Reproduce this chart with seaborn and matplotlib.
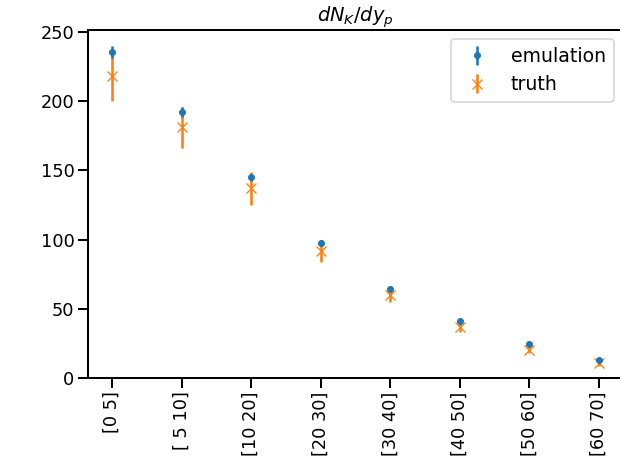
import numpy as np
import matplotlib
matplotlib.use("Agg")
import matplotlib.pyplot as plt
import seaborn as sns

categories = ["[0 5]", "[ 5 10]", "[10 20]", "[20 30]", "[30 40]", "[40 50]", "[50 60]", "[60 70]"]
emulation = [235.5, 192, 145, 97.5, 64, 41, 24.5, 13]
emulation_err = [4.5, 3.5, 2.5, 2, 1.5, 1, 1, 0.7]
truth = [218, 181, 137, 92, 60, 36.5, 20.5, 10.5]
truth_err = [18, 15, 12, 8, 5, 3.5, 2.5, 1.5]

sns.set_theme(context="talk", style="ticks", palette="tab10",
              rc={"text.color": "black", "axes.labelcolor": "black",
                  "xtick.color": "black", "ytick.color": "black",
                  "axes.edgecolor": "black"})
plt.rcParams['font.family'] = ['DejaVu Sans']

colors = sns.color_palette("tab10")

dpi = 77.5
fig = plt.figure(figsize=(620 / dpi, 468 / dpi), dpi=dpi)
ax = fig.add_axes([88 / 620, 1 - 378 / 468, (623 - 88) / 620, (378 - 30) / 468])

x = np.arange(len(categories))
ax.errorbar(x, truth, yerr=truth_err, fmt="x", color=colors[1], ms=10, mew=1.2,
            elinewidth=2.4, label="truth", zorder=2)
ax.errorbar(x, emulation, yerr=emulation_err, fmt="o", color=colors[0], ms=5.5,
            elinewidth=2.4, label="emulation", zorder=3)

ax.set_xticks(x)
ax.set_xticklabels(categories, rotation=90)
ax.set_xlim(-0.345, len(categories) - 1 + 0.345)
ax.set_ylim(0, 251.4)
ax.set_yticks([0, 50, 100, 150, 200, 250])
ax.set_title(r"$dN_K/dy_p$", fontsize=18)

handles, labels = ax.get_legend_handles_labels()
ax.legend(handles[::-1], labels[::-1], loc="upper right", fontsize=17.5)

fig.savefig("out.png", dpi=dpi)
